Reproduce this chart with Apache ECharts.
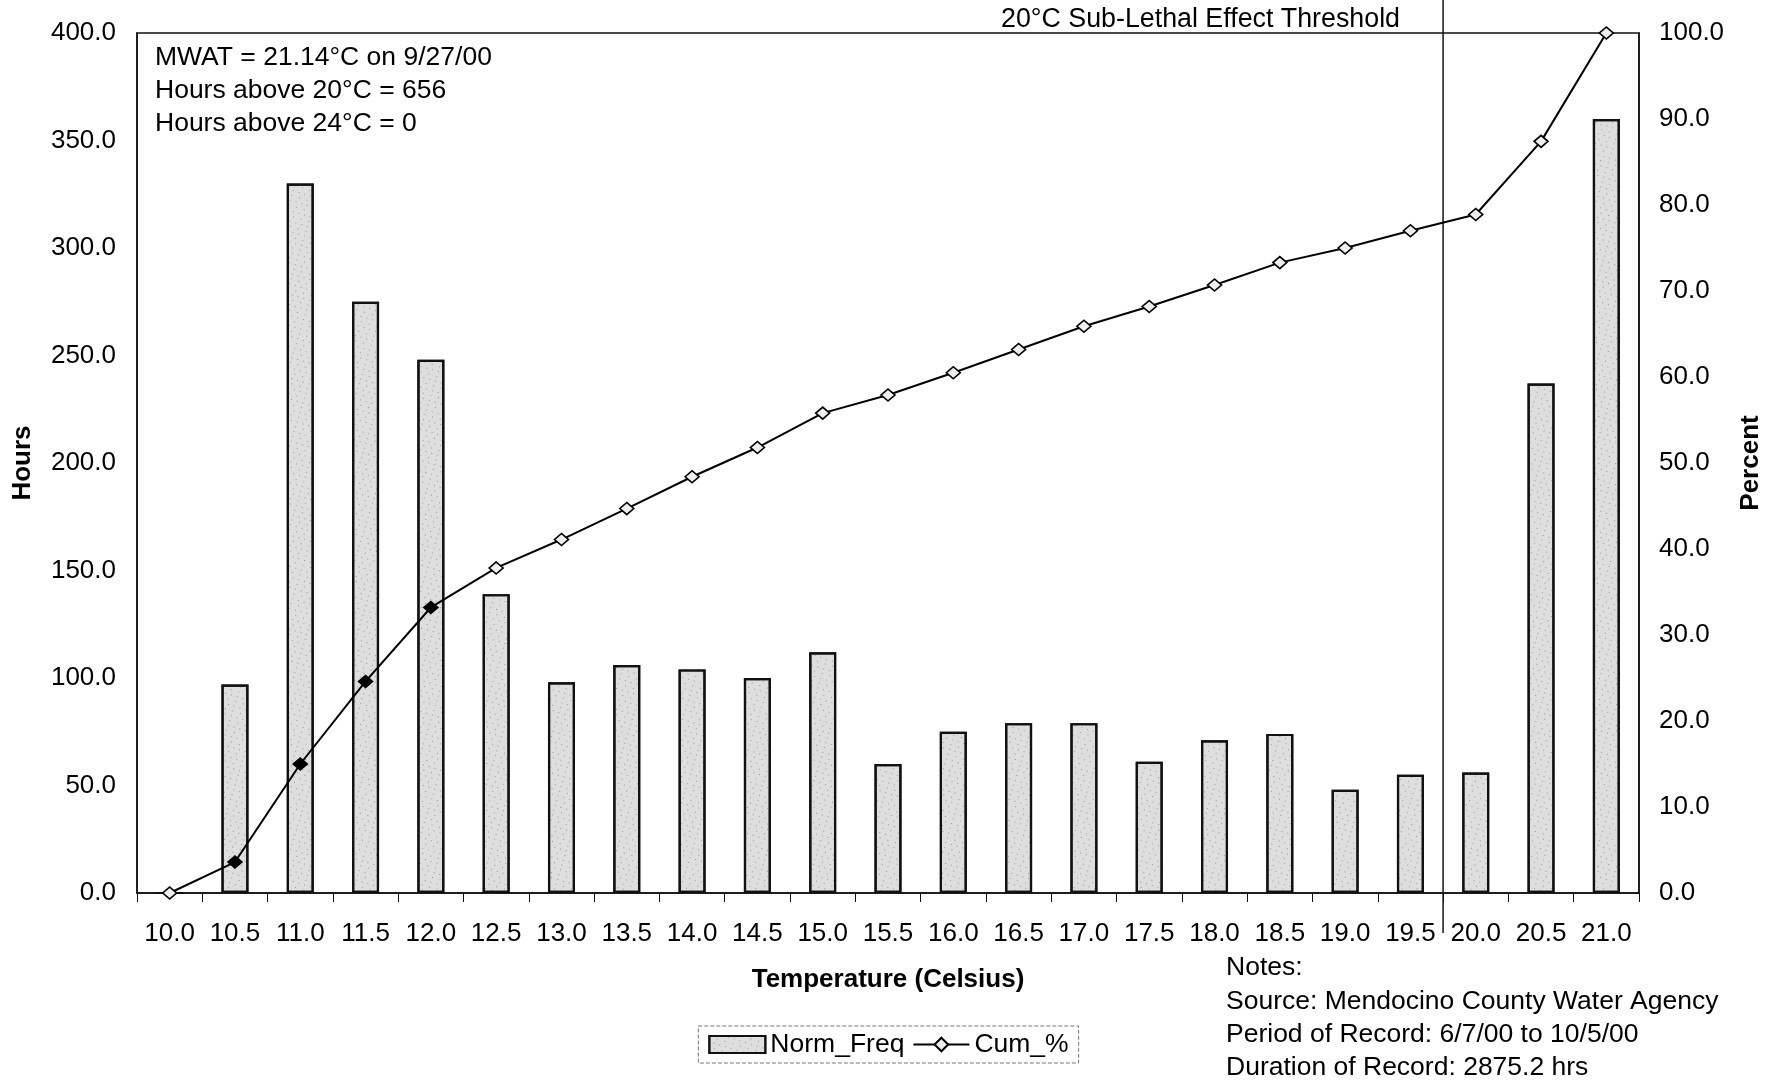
<!DOCTYPE html>
<html>
<head>
<meta charset="utf-8">
<script src="https://cdn.jsdelivr.net/npm/echarts@6/dist/echarts.min.js"></script>
<style>
html,body{margin:0;padding:0;background:#fff;}
#chart{width:1777px;height:1080px;}
</style>
</head>
<body>
<div id="chart"></div>
<script>
// ---------------- data ----------------
const categories = ['10.0','10.5','11.0','11.5','12.0','12.5','13.0','13.5','14.0','14.5','15.0','15.5','16.0','16.5','17.0','17.5','18.0','18.5','19.0','19.5','20.0','20.5','21.0'];
const normFreq = [0, 97, 330, 275, 248, 139, 98, 106, 104, 100, 112, 60, 75, 79, 79, 61, 71, 74, 48, 55, 56, 237, 360];
const cumPct = [0, 3.6, 15.0, 24.6, 33.2, 37.8, 41.1, 44.7, 48.4, 51.8, 55.8, 57.9, 60.5, 63.2, 65.9, 68.2, 70.7, 73.3, 75.0, 77.0, 78.9, 87.4, 100.0];
const seriesNames = ['Norm_Freq', 'Cum_%'];
const hoursTicks = [0, 50, 100, 150, 200, 250, 300, 350, 400];
const pctTicks = [0, 10, 20, 30, 40, 50, 60, 70, 80, 90, 100];
const annotationLines = ['MWAT = 21.14°C on 9/27/00', 'Hours above 20°C = 656', 'Hours above 24°C = 0'];
const noteLines = ['Notes:', 'Source: Mendocino County Water Agency', 'Period of Record: 6/7/00 to 10/5/00', 'Duration of Record: 2875.2 hrs'];
const thresholdLabel = '20°C Sub-Lethal Effect Threshold';
const thresholdTemp = 19.75; // boundary between the 19.5 and 20.0 bins
const filledMarkers = [1, 2, 3, 4];

// ---------------- chart ----------------
const FONT = '"Liberation Sans", Arial, sans-serif';
const FS = 26;
const chart = echarts.init(document.getElementById('chart'), null, {renderer: 'canvas'});

const binHalf = (parseFloat(categories[1]) - parseFloat(categories[0])) / 2;
const tMin = parseFloat(categories[0]) - binHalf;
const tMax = parseFloat(categories[categories.length - 1]) + binHalf;

const graphics = [];
annotationLines.forEach((t, i) => graphics.push({
  type: 'text', x: 155, y: 58 + i * 33, silent: true,
  style: {text: t, fill: '#000', fontSize: 26.5, fontFamily: FONT, align: 'left', verticalAlign: 'middle'}
}));
noteLines.forEach((t, i) => graphics.push({
  type: 'text', x: 1226, y: 968 + i * 33.3, silent: true,
  style: {text: t, fill: '#000', fontSize: 26.5, fontFamily: FONT, align: 'left', verticalAlign: 'middle'}
}));
graphics.push({
  type: 'text', x: 1400, y: 20, silent: true,
  style: {text: thresholdLabel, fill: '#000', fontSize: 26.8, fontFamily: FONT, align: 'right', verticalAlign: 'middle'}
});

const option = {
  animation: false,
  backgroundColor: '#fff',
  textStyle: {fontFamily: FONT, color: '#000'},
  grid: [
    {left: 137, right: 138, top: 33, bottom: 187, show: true, borderColor: '#111', borderWidth: 1.5, backgroundColor: 'transparent'},
    {left: 137, right: 138, top: 0, bottom: 147, show: false}
  ],
  legend: {
    data: [{name: seriesNames[0], icon: 'rect'}, {name: seriesNames[1]}],
    left: 'center',
    top: 1026,
    itemWidth: 56,
    itemHeight: 17,
    itemGap: 8,
    padding: [5, 10],
    borderColor: '#777',
    borderWidth: 1,
    borderType: 'dashed',
    textStyle: {fontSize: 26.5, fontFamily: FONT, color: '#000'}
  },
  xAxis: [
    {
      type: 'category', gridIndex: 0, data: categories, boundaryGap: true,
      axisLine: {show: true, lineStyle: {color: '#111', width: 1.5}},
      axisTick: {show: true, interval: 0, length: 9, lineStyle: {color: '#111', width: 1}},
      axisLabel: {interval: 0, fontSize: FS, fontFamily: FONT, color: '#000', margin: 28},
      splitLine: {show: false},
      name: 'Temperature (Celsius)', nameLocation: 'middle', nameGap: 74,
      nameTextStyle: {fontSize: FS, fontWeight: 'bold', fontFamily: FONT, color: '#000'}
    },
    {
      type: 'value', gridIndex: 1, min: tMin, max: tMax, show: false
    }
  ],
  yAxis: [
    {
      type: 'value', gridIndex: 0, position: 'left',
      min: hoursTicks[0], max: hoursTicks[hoursTicks.length - 1], interval: hoursTicks[1] - hoursTicks[0],
      axisLine: {show: true, lineStyle: {color: '#111', width: 1.5}},
      axisTick: {show: false}, splitLine: {show: false},
      axisLabel: {fontSize: FS, fontFamily: FONT, color: '#000', margin: 21, formatter: v => v.toFixed(1)},
      name: 'Hours', nameLocation: 'middle', nameGap: 101, nameRotate: 90,
      nameTextStyle: {fontSize: FS, fontWeight: 'bold', fontFamily: FONT, color: '#000'}
    },
    {
      type: 'value', gridIndex: 0, position: 'right',
      min: pctTicks[0], max: pctTicks[pctTicks.length - 1], interval: pctTicks[1] - pctTicks[0],
      axisLine: {show: true, lineStyle: {color: '#111', width: 1.5}},
      axisTick: {show: false}, splitLine: {show: false},
      axisLabel: {fontSize: FS, fontFamily: FONT, color: '#000', margin: 20, formatter: v => v.toFixed(1)},
      name: 'Percent', nameLocation: 'middle', nameGap: 99, nameRotate: 90,
      nameTextStyle: {fontSize: FS, fontWeight: 'bold', fontFamily: FONT, color: '#000'}
    },
    {
      type: 'value', gridIndex: 1, min: 0, max: 1, show: false
    }
  ],
  series: [
    {
      name: seriesNames[0], type: 'bar', xAxisIndex: 0, yAxisIndex: 0,
      data: normFreq, barWidth: 27,
      itemStyle: {
        color: '#dedede', borderColor: '#111', borderWidth: 2.2,
        decal: {
          symbol: 'rect', symbolSize: 0.8, color: 'rgba(40,40,40,0.5)',
          dashArrayX: [[1, 5], [1, 7]], dashArrayY: [1, 4], rotation: 0.3
        }
      },
      z: 2
    },
    {
      name: seriesNames[1], type: 'line', xAxisIndex: 0, yAxisIndex: 1,
      data: cumPct.map((v, i) => filledMarkers.includes(i) ? {value: v, itemStyle: {color: '#000'}} : v),
      symbol: 'diamond', symbolSize: [14, 12], showAllSymbol: true,
      lineStyle: {color: '#000', width: 2},
      itemStyle: {color: '#eeeeee', borderColor: '#000', borderWidth: 1.6},
      z: 4
    },
    {
      name: 'threshold', type: 'line', xAxisIndex: 1, yAxisIndex: 2,
      data: [[thresholdTemp, 0], [thresholdTemp, 1]],
      symbol: 'none', silent: true, clip: false,
      lineStyle: {color: '#111', width: 1.5},
      z: 3
    }
  ],
  graphic: graphics
};

chart.setOption(option);
</script>
</body>
</html>
